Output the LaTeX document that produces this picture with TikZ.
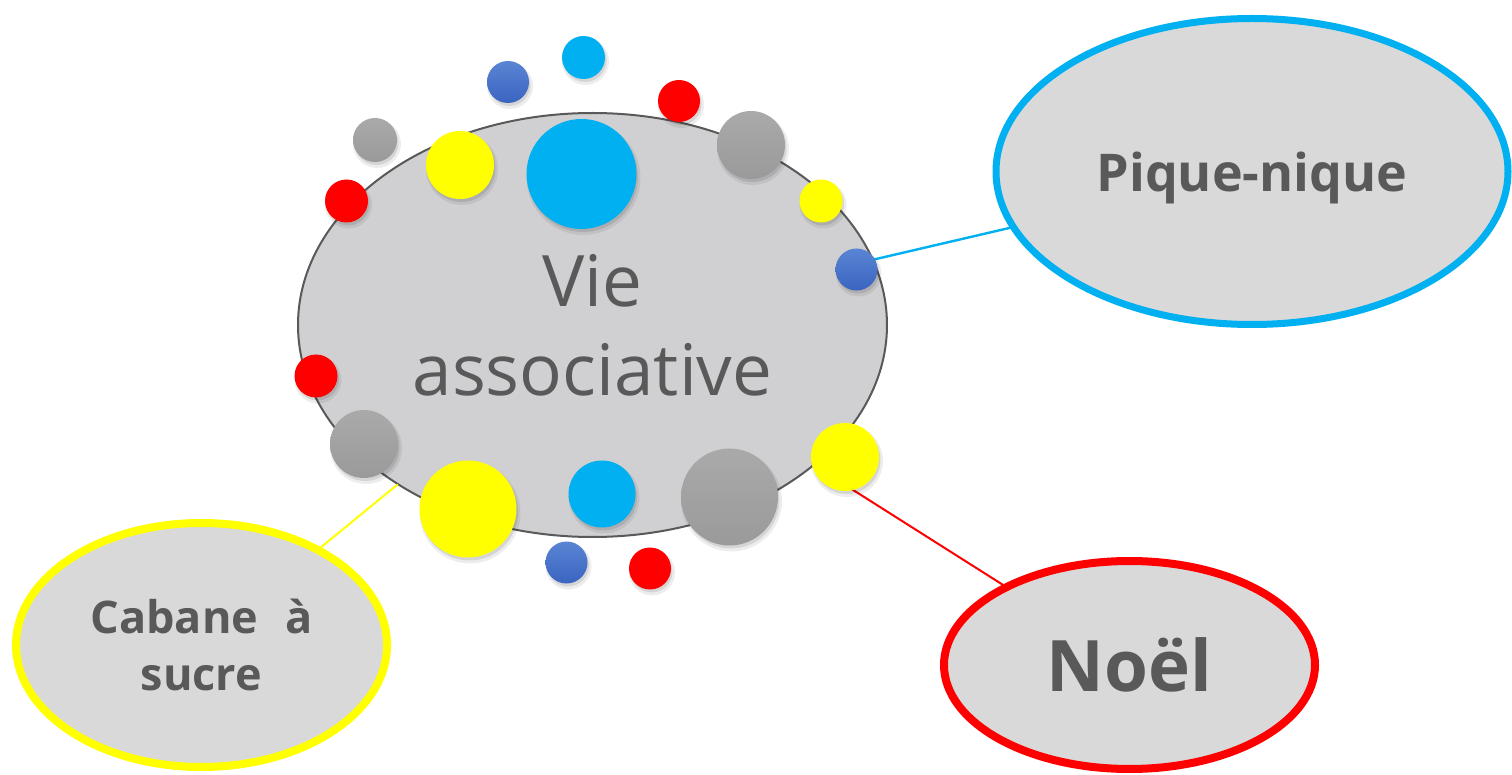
\documentclass[tikz,border=0pt]{standalone}
\usepackage{fontspec}
\setmainfont{Open Sans}
\usepackage{tikz}
\usetikzlibrary{shapes.geometric}

\definecolor{txtgray}{HTML}{595959}
\definecolor{mainfill}{HTML}{D0CFD1}
\definecolor{satfill}{HTML}{D9D9D9}
\definecolor{cyanring}{HTML}{00B0F0}
\definecolor{redring}{HTML}{FF0000}
\definecolor{yellowring}{HTML}{FFFF00}
\definecolor{dotgray}{HTML}{A5A5A5}
\definecolor{dotgraydark}{HTML}{9A9A9A}
\definecolor{dotbluetop}{HTML}{5A85D4}
\definecolor{dotbluebot}{HTML}{3A64C0}

\begin{document}
\begin{tikzpicture}[line cap=round,line join=round,x=0.5pt,y=-0.5pt,
	bubble/.style={ellipse,inner sep=0pt,fill=satfill,text=txtgray,align=center,font=\bfseries},
	dotblue/.style={top color=dotbluetop,bottom color=dotbluebot},
	dotgray/.style={top color=dotgray!95!white,bottom color=dotgraydark},
	dotcyan/.style={fill=cyanring},
	dotred/.style={fill=redring},
	dotyellow/.style={fill=yellowring}]
		\useasboundingbox (0,0) rectangle (1512,775);
		
		\node[ellipse,draw=txtgray,line width=1pt,fill=mainfill,inner sep=0pt,minimum width=294.5pt,minimum height=212pt,
			text=txtgray,align=center,font=\fontsize{35.5}{44.5}\selectfont] (vie) at (592.5,325) {Vie\\associative};
		
		\node[bubble,draw=cyanring,line width=3.5pt,minimum width=256pt,minimum height=153pt,
			font=\bfseries\fontsize{26}{32}\selectfont,text depth=0pt] (pique) at (1252,171.5) {Pique-nique};
		\node[bubble,draw=redring,line width=4pt,minimum width=185.5pt,minimum height=104pt,
			font=\bfseries\fontsize{35.5}{42}\selectfont] (noel) at (1129.5,665) {Noël};
		\node[bubble,draw=yellowring,line width=4pt,minimum width=185.5pt,minimum height=122pt,
			font=\bfseries\fontsize{22.5}{28.5}\selectfont] (cabane) at (201.5,645) {Cabane\hspace{0.6em}à\\sucre};
		
		\draw[color=cyanring,line width=1.2pt] (vie) -- (pique);
		\draw[color=redring,line width=1pt] (vie) -- (noel);
		\draw[color=yellowring,line width=1pt] (vie) -- (cabane);
		
		\foreach \px/\py/\rr/\cc in {508/82/21/dotblue, 583.5/57.5/21.5/dotcyan, 679/101/21/dotred,
			375/140/22/dotgray, 460/165/34/dotyellow, 581.5/174/55/dotcyan, 751/145/34/dotgray,
			346.5/201/21.5/dotred, 821/201/21.5/dotyellow, 856.5/269.5/21/dotblue,
			316/376/21.5/dotred, 364/444/34/dotgray, 845/457/34/dotyellow,
			468/509/48.5/dotyellow, 602/494/33.5/dotcyan, 729.5/497/48.5/dotgray,
			566.5/562.5/21/dotblue, 650/568.5/21/dotred}
		{
			\fill[black,opacity=.07] (\px+2,\py+4) circle ({\rr+2});
			\fill[black,opacity=.10] (\px+1.5,\py+3) circle (\rr);
			\path[\cc] (\px,\py) circle (\rr);
		}
\end{tikzpicture}
\end{document}
